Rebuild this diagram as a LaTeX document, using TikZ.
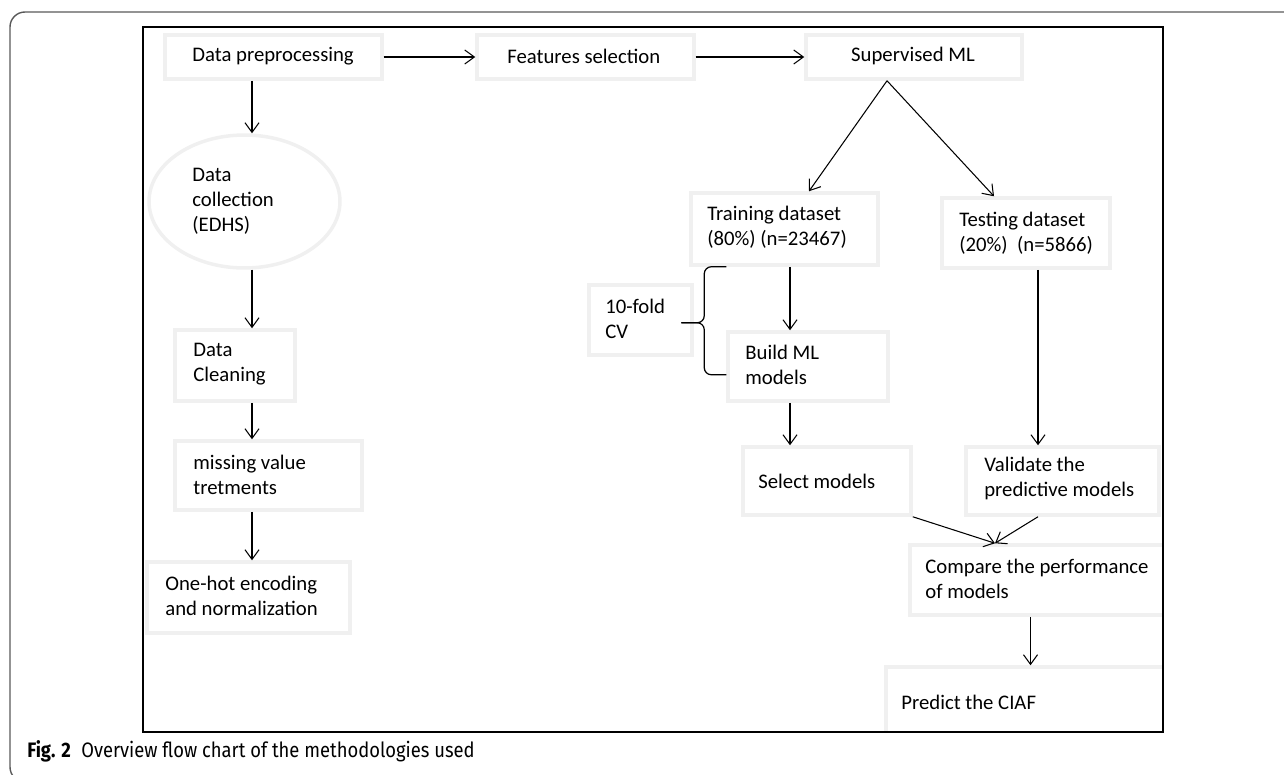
\documentclass[tikz,border=0pt]{standalone}
\usepackage{fontspec}
\setmainfont{Carlito}
\newfontfamily\capfont[FakeStretch=0.88]{Fira Sans}
\usetikzlibrary{arrows.meta,shapes.geometric}
\tikzstyle{box}=[rectangle, draw=gray!12, line width=2pt, inner sep=0pt, anchor=center]
\tikzstyle{oval}=[ellipse, draw=gray!12, line width=2pt, inner sep=0pt, anchor=center]
\tikzstyle{annot}=[align=left, anchor=west, inner sep=0pt, font=\fontsize{11.8}{14.2}\selectfont]
\tikzstyle{arr}=[-{Straight Barb[length=5.5pt,width=8pt]}, line width=0.6pt]

\begin{document}
\begin{tikzpicture}[x=0.02cm, y=-0.02cm]
	\useasboundingbox (0,0) rectangle (1284,774);

	% outer frame
	\begin{scope}
		\clip (0,0) rectangle (1284,774);
		\draw[black!65, line width=0.8pt, rounded corners=0.3cm] (10,12) rectangle (1320,782);
	\end{scope}

	\begin{scope}
		\clip (143,27) rectangle (1163,732);
		% left column
		\node[box, minimum width=4.34cm, minimum height=0.88cm](prep) at (273.5,57){};
		\node[oval, minimum width=3.82cm, minimum height=2.66cm](coll) at (244.5,201.5){};
		\node[box, minimum width=2.4cm, minimum height=1.42cm](clean) at (235,365.5){};
		\node[box, minimum width=3.74cm, minimum height=1.38cm](miss) at (268.5,475.5){};
		\node[box, minimum width=4.06cm, minimum height=1.42cm](onehot) at (248.5,597.5){};
		% top row
		\node[box, minimum width=4.34cm, minimum height=0.88cm](feat) at (585.5,57){};
		\node[box, minimum width=4.32cm, minimum height=0.88cm](sup) at (914,57){};
		% right part
		\node[box, minimum width=2.06cm, minimum height=1.4cm](cv) at (640.5,320){};
		\node[box, minimum width=3.74cm, minimum height=1.44cm](train) at (784.5,229){};
		\node[box, minimum width=3.36cm, minimum height=1.4cm](test) at (1026,233){};
		\node[box, minimum width=3.2cm, minimum height=1.38cm](build) at (808,366.5){};
		\node[box, minimum width=3.36cm, minimum height=1.36cm](select) at (827,481){};
		\node[box, minimum width=3.86cm, minimum height=1.36cm](valid) at (1062.5,481){};
		\node[box, minimum width=5.3cm, minimum height=1.4cm](compare) at (1042.5,580){};
		\node[box, minimum width=5.78cm, minimum height=1.56cm](predict) at (1030.5,706){};
	\end{scope}

	\draw[line width=1.1pt] (143,27) rectangle (1163,732);

	% texts
	\node[annot](prept) at (192,56) {Data preprocessing};
	\node[annot](featt) at (507,56) {Features selection};
	\node[annot, anchor=center](supt) at (913,56) {Supervised ML};
	\node[annot](collt) at (192,201) {Data\\collection\\(EDHS)};
	\node[annot](cleant) at (193,364.5) {Data\\Cleaning};
	\node[annot](misst) at (193,474.5) {missing value\\tretments};
	\node[annot](onehott) at (165,595.5) {One-hot encoding\\and normalization};
	\node[annot](cvt) at (605,318.5) {10-fold\\CV};
	\node[annot](traint) at (707,227.5) {Training dataset\\(80\%) (n=23467)};
	\node[annot](testt) at (959,233) {Testing dataset\\(20\%)\ \ (n=5866)};
	\node[annot](buildt) at (745,364.5) {Build ML\\models};
	\node[annot](selectt) at (758,481) {Select models};
	\node[annot](validt) at (984,478.5) {Validate the\\predictive models};
	\node[annot](comparet) at (925,578.5) {Compare the performance\\of models};
	\node[annot](predictt) at (901,702) {Predict the CIAF};

	% arrows
	\coordinate (lcol) at (252,0);
	\coordinate (mcol) at (790,0);
	\coordinate (rcol) at (1038,0);
	\coordinate (meet) at ([xshift=-0.95cm]compare.north);
	\draw[arr] (prep.east) -- (feat.west);
	\draw[arr] (feat.east) -- (sup.west);
	\draw[arr] (prep.south -| lcol) -- (coll.north -| lcol);
	\draw[arr] (coll.south -| lcol) -- (clean.north -| lcol);
	\draw[arr] (clean.south -| lcol) -- (miss.north -| lcol);
	\draw[arr] (miss.south -| lcol) -- (onehot.north -| lcol);
	\draw[arr] ([xshift=-0.54cm]sup.south) -- ([xshift=0.49cm]train.north);
	\draw[arr] ([xshift=-0.54cm]sup.south) -- ([xshift=-0.64cm]test.north);
	\draw[arr] (train.south -| mcol) -- (build.north -| mcol);
	\draw[arr] (build.south -| mcol) -- (select.north -| mcol);
	\draw[arr] (test.south -| rcol) -- (valid.north -| rcol);
	\draw[arr] (select.south east) -- (meet);
	\draw[arr] (valid.south -| rcol) -- (meet);
	\draw[arr] (compare.south -| predict.north) -- (predict.north);

	% brace for the cv
	\coordinate (btop) at (train.south -| build.west);
	\coordinate (bbot) at ([yshift=0.56cm]build.south west);
	\draw[line width=0.7pt, rounded corners=4pt] (btop) -- ++(-22,0) -- ++(0,56) -- ++(-23,0);
	\draw[line width=0.7pt, rounded corners=4pt] (bbot) -- ++(-22,0) -- ++(0,-52) -- ++(-23,0);

	% caption
	\node[anchor=base west, inner sep=0pt, font=\capfont\fontsize{11.9}{13}\selectfont](cap) at (27,757) {\textbf{Fig. 2}\hspace{0.5em}Overview flow chart of the methodologies used};
\end{tikzpicture}
\end{document}
